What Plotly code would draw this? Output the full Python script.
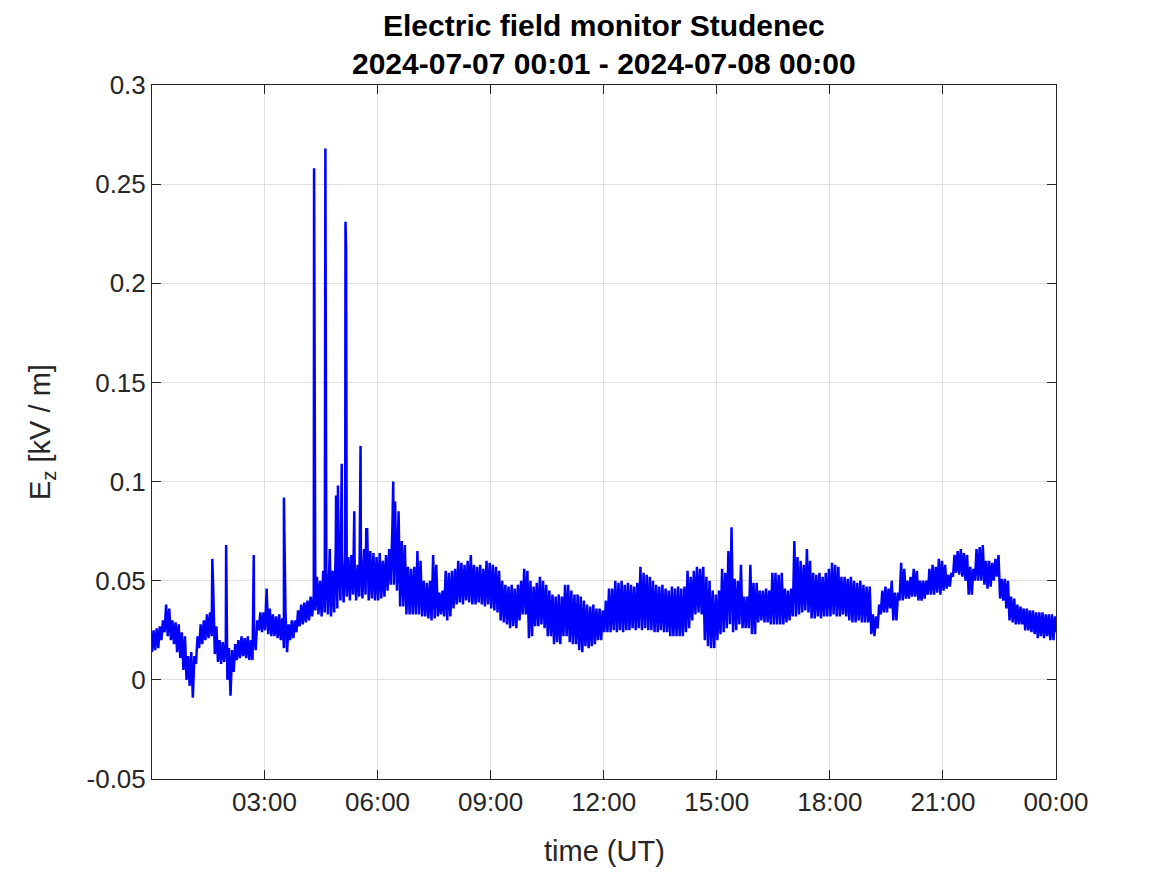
import pandas as pd
import plotly.graph_objects as go

# Ez per 5-minute bin (bins start 00:01): bin maximum (hi) and minimum (lo), kV/m, one list per hour
hi00 = [0.025, 0.026, 0.027, 0.030, 0.038, 0.036, 0.030, 0.029, 0.028, 0.024, 0.022, 0.012]
lo00 = [0.014, 0.015, 0.016, 0.020, 0.024, 0.022, 0.020, 0.018, 0.014, 0.011, 0.005, 0.000]
hi01 = [0.014, 0.012, 0.022, 0.028, 0.030, 0.033, 0.034, 0.045, 0.027, 0.020, 0.019, 0.020]
lo01 = [-0.003, -0.009, 0.008, 0.016, 0.018, 0.020, 0.021, 0.022, 0.013, 0.009, 0.008, 0.009]
hi02 = [0.016, 0.015, 0.018, 0.020, 0.022, 0.021, 0.022, 0.020, 0.022, 0.030, 0.034, 0.034]
lo02 = [0.000, -0.008, 0.004, 0.010, 0.011, 0.012, 0.011, 0.010, 0.010, 0.015, 0.025, 0.024]
hi03 = [0.046, 0.036, 0.033, 0.032, 0.033, 0.031, 0.034, 0.028, 0.030, 0.030, 0.035, 0.038]
lo03 = [0.025, 0.023, 0.022, 0.022, 0.021, 0.020, 0.016, 0.014, 0.020, 0.021, 0.024, 0.027]
hi04 = [0.039, 0.040, 0.042, 0.043, 0.052, 0.050, 0.055, 0.054, 0.058, 0.055, 0.066, 0.060]
lo04 = [0.028, 0.029, 0.030, 0.032, 0.035, 0.033, 0.032, 0.034, 0.033, 0.032, 0.034, 0.036]
hi05 = [0.065, 0.060, 0.062, 0.063, 0.060, 0.058, 0.062, 0.066, 0.076, 0.065, 0.064, 0.062]
lo05 = [0.040, 0.039, 0.042, 0.040, 0.043, 0.040, 0.042, 0.041, 0.043, 0.040, 0.041, 0.040]
hi06 = [0.064, 0.060, 0.063, 0.066, 0.075, 0.080, 0.085, 0.070, 0.068, 0.057, 0.056, 0.057]
lo06 = [0.040, 0.041, 0.042, 0.045, 0.048, 0.048, 0.045, 0.037, 0.037, 0.033, 0.033, 0.033]
hi07 = [0.065, 0.060, 0.050, 0.049, 0.050, 0.063, 0.058, 0.044, 0.045, 0.055, 0.054, 0.055]
lo07 = [0.033, 0.033, 0.032, 0.032, 0.031, 0.030, 0.031, 0.032, 0.033, 0.032, 0.030, 0.032]
hi08 = [0.056, 0.060, 0.059, 0.058, 0.060, 0.063, 0.058, 0.057, 0.058, 0.056, 0.060, 0.059]
lo08 = [0.036, 0.038, 0.039, 0.038, 0.040, 0.039, 0.038, 0.038, 0.039, 0.038, 0.037, 0.038]
hi09 = [0.058, 0.057, 0.055, 0.050, 0.048, 0.047, 0.048, 0.046, 0.048, 0.050, 0.056, 0.055]
lo09 = [0.036, 0.035, 0.034, 0.030, 0.029, 0.028, 0.026, 0.027, 0.026, 0.030, 0.033, 0.033]
hi10 = [0.050, 0.047, 0.049, 0.052, 0.050, 0.048, 0.045, 0.043, 0.042, 0.043, 0.042, 0.048]
lo10 = [0.021, 0.022, 0.027, 0.027, 0.028, 0.026, 0.022, 0.022, 0.018, 0.019, 0.018, 0.022]
hi11 = [0.048, 0.045, 0.043, 0.043, 0.042, 0.040, 0.038, 0.037, 0.038, 0.036, 0.036, 0.035]
lo11 = [0.022, 0.019, 0.018, 0.018, 0.015, 0.014, 0.017, 0.016, 0.017, 0.018, 0.020, 0.020]
hi12 = [0.040, 0.046, 0.046, 0.050, 0.049, 0.050, 0.048, 0.049, 0.048, 0.047, 0.049, 0.057]
lo12 = [0.024, 0.024, 0.024, 0.025, 0.024, 0.025, 0.024, 0.025, 0.025, 0.026, 0.025, 0.026]
hi13 = [0.054, 0.053, 0.052, 0.050, 0.048, 0.047, 0.048, 0.046, 0.045, 0.047, 0.046, 0.047]
lo13 = [0.025, 0.026, 0.025, 0.025, 0.024, 0.024, 0.025, 0.024, 0.024, 0.022, 0.022, 0.022]
hi14 = [0.046, 0.047, 0.055, 0.052, 0.055, 0.057, 0.056, 0.057, 0.052, 0.050, 0.045, 0.043]
lo14 = [0.022, 0.022, 0.024, 0.026, 0.030, 0.033, 0.034, 0.033, 0.020, 0.017, 0.016, 0.016]
hi15 = [0.045, 0.056, 0.054, 0.065, 0.077, 0.051, 0.050, 0.058, 0.042, 0.042, 0.058, 0.049]
lo15 = [0.020, 0.023, 0.024, 0.026, 0.028, 0.024, 0.025, 0.028, 0.026, 0.026, 0.026, 0.023]
hi16 = [0.049, 0.045, 0.045, 0.046, 0.045, 0.054, 0.054, 0.053, 0.054, 0.046, 0.045, 0.046]
lo16 = [0.023, 0.029, 0.030, 0.029, 0.029, 0.028, 0.028, 0.028, 0.028, 0.028, 0.029, 0.030]
hi17 = [0.070, 0.062, 0.060, 0.058, 0.066, 0.060, 0.054, 0.053, 0.054, 0.052, 0.054, 0.056]
lo17 = [0.032, 0.032, 0.033, 0.034, 0.035, 0.034, 0.031, 0.031, 0.032, 0.031, 0.032, 0.032]
hi18 = [0.059, 0.058, 0.057, 0.052, 0.052, 0.051, 0.052, 0.050, 0.049, 0.050, 0.048, 0.047]
lo18 = [0.032, 0.033, 0.032, 0.032, 0.033, 0.032, 0.030, 0.029, 0.029, 0.030, 0.029, 0.029]
hi19 = [0.047, 0.033, 0.032, 0.038, 0.045, 0.047, 0.046, 0.050, 0.044, 0.044, 0.059, 0.056]
lo19 = [0.029, 0.023, 0.022, 0.026, 0.033, 0.034, 0.034, 0.036, 0.030, 0.030, 0.040, 0.040]
hi20 = [0.050, 0.052, 0.056, 0.055, 0.050, 0.050, 0.050, 0.056, 0.058, 0.057, 0.061, 0.060]
lo20 = [0.041, 0.041, 0.042, 0.042, 0.040, 0.040, 0.041, 0.043, 0.043, 0.043, 0.044, 0.043]
hi21 = [0.058, 0.053, 0.054, 0.063, 0.065, 0.066, 0.064, 0.063, 0.057, 0.056, 0.066, 0.067]
lo21 = [0.045, 0.046, 0.047, 0.052, 0.054, 0.053, 0.052, 0.050, 0.043, 0.043, 0.050, 0.050]
hi22 = [0.068, 0.060, 0.060, 0.059, 0.061, 0.063, 0.051, 0.051, 0.050, 0.042, 0.041, 0.038]
lo22 = [0.050, 0.048, 0.046, 0.047, 0.050, 0.052, 0.041, 0.040, 0.036, 0.030, 0.029, 0.028]
hi23 = [0.037, 0.036, 0.036, 0.035, 0.035, 0.034, 0.034, 0.034, 0.033, 0.033, 0.033, 0.032]
lo23 = [0.028, 0.028, 0.025, 0.025, 0.024, 0.023, 0.021, 0.022, 0.021, 0.022, 0.020, 0.020]
last_value = 0.024  # at 2024-07-08 00:00

# Short spikes: minutes after 2024-07-07 00:00 and peak values (kV/m)
spike_minutes = [97, 119, 163, 211, 259, 260, 277, 278, 284, 294, 297, 303,
                 309, 310, 323, 333, 342, 385, 388]
spike_values = [0.061, 0.068, 0.063, 0.092, 0.258, 0.128, 0.268, 0.081, 0.066,
                0.093, 0.098, 0.109, 0.231, 0.217, 0.085, 0.118, 0.076, 0.100, 0.090]

y_tick_vals = [-0.05, 0, 0.05, 0.1, 0.15, 0.2, 0.25, 0.3]
y_tick_text = ["-0.05", "0", "0.05", "0.1", "0.15", "0.2", "0.25", "0.3"]

title_line1 = "Electric field monitor Studenec"
title_line2 = "2024-07-07 00:01 - 2024-07-08 00:00"
x_title = "time (UT)"
y_title = "E<sub>z</sub> [kV / m]"

his = [hi00, hi01, hi02, hi03, hi04, hi05, hi06, hi07, hi08, hi09, hi10, hi11,
       hi12, hi13, hi14, hi15, hi16, hi17, hi18, hi19, hi20, hi21, hi22, hi23]
los = [lo00, lo01, lo02, lo03, lo04, lo05, lo06, lo07, lo08, lo09, lo10, lo11,
       lo12, lo13, lo14, lo15, lo16, lo17, lo18, lo19, lo20, lo21, lo22, lo23]
hi_all = [v for h in his for v in h]
lo_all = [v for h in los for v in h]
bin_start = pd.date_range("2024-07-07 00:01", periods=len(hi_all), freq="5min")
half = pd.Timedelta(seconds=150)

times, vals = [], []
for t, lo, hi in zip(bin_start, lo_all, hi_all):
    times += [t, t + half]
    vals += [lo, hi]
times.append(pd.Timestamp("2024-07-08 00:00"))
vals.append(last_value)

day0 = pd.Timestamp("2024-07-07 00:00")
times += [day0 + pd.Timedelta(minutes=m) for m in spike_minutes]
vals += spike_values

df = pd.DataFrame({"t": times, "v": vals}).sort_values("t", kind="stable")

axis_col = "#262626"
grid_col = "#dfdfdf"
font_fam = "Liberation Sans, Arial, sans-serif"

fig = go.Figure()
fig.add_trace(go.Scatter(x=df["t"], y=df["v"], mode="lines",
                         line=dict(color="#0000ff", width=2.5), showlegend=False))

fig.update_layout(
    width=1151, height=859,
    paper_bgcolor="white", plot_bgcolor="white",
    margin=dict(l=144, r=103, t=77, b=88),
    font=dict(family=font_fam, color=axis_col, size=26),
)
fig.add_annotation(text="<b>" + title_line1 + "</b>", xref="paper", yref="paper",
                   x=0.5, y=1.086, xanchor="center", yanchor="middle", showarrow=False,
                   font=dict(size=30, color="#000000", family=font_fam))
fig.add_annotation(text="<b>" + title_line2 + "</b>", xref="paper", yref="paper",
                   x=0.5, y=1.0317, xanchor="center", yanchor="middle", showarrow=False,
                   font=dict(size=30, color="#000000", family=font_fam))
fig.add_annotation(text=x_title, xref="paper", yref="paper",
                   x=0.5, y=-0.1037, xanchor="center", yanchor="middle", showarrow=False,
                   font=dict(size=29, color=axis_col, family=font_fam))
fig.add_annotation(text=y_title, xref="paper", yref="paper", textangle=-90,
                   x=-0.1217, y=0.5, xanchor="center", yanchor="middle", showarrow=False,
                   font=dict(size=29, color=axis_col, family=font_fam))

fig.update_xaxes(
    range=["2024-07-07 00:01", "2024-07-08 00:00"],
    tick0="2024-07-07 00:00", dtick=3 * 3600 * 1000, tickformat="%H:%M",
    showgrid=True, gridcolor=grid_col, gridwidth=1,
    showline=True, linecolor=axis_col, linewidth=1, mirror="ticks",
    ticks="inside", ticklen=9, tickcolor=axis_col,
    tickfont=dict(size=26, color=axis_col),
    zeroline=False,
)
fig.update_yaxes(
    range=[-0.05, 0.3], tickvals=y_tick_vals, ticktext=y_tick_text,
    showgrid=True, gridcolor=grid_col, gridwidth=1,
    showline=True, linecolor=axis_col, linewidth=1, mirror="ticks",
    ticks="inside", ticklen=9, tickcolor=axis_col,
    tickfont=dict(size=26, color=axis_col),
    zeroline=False,
)

fig.write_html("out.html")
